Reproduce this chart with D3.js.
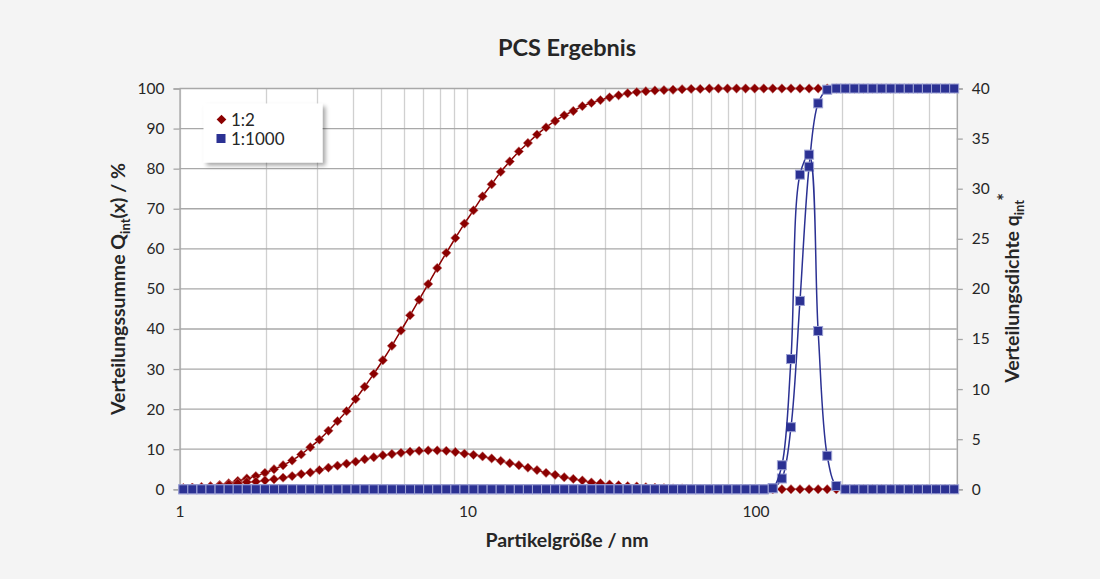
<!DOCTYPE html>
<html>
<head>
<meta charset="utf-8">
<script src="https://cdn.jsdelivr.net/npm/d3@7"></script>
<style>
  html, body { margin: 0; padding: 0; background: #f4f4f4; }
  svg { display: block; font-family: Lato, "Open Sans", sans-serif; }
</style>
</head>
<body>
<svg id="chart" width="1100" height="579"></svg>
<script>
// Particle size classes (nm)
const sizes = [1.031,1.108,1.192,1.281,1.378,1.482,1.593,1.713,1.841,1.980,
  2.129,2.289,2.461,2.646,2.845,3.059,3.289,3.536,3.802,4.088,
  4.395,4.726,5.082,5.464,5.875,6.317,6.791,7.302,7.851,8.441,
  9.076,9.759,10.49,11.28,12.13,13.04,14.02,15.08,16.21,17.43,
  18.74,20.15,21.67,23.30,25.05,26.93,28.95,31.13,33.47,35.99,
  38.70,41.61,44.74,48.10,51.72,55.61,59.79,64.28,69.12,74.32,
  79.91,85.92,92.38,99.33,106.8,114.8,123.5,132.8,142.7,153.5,
  165.0,177.4,190.8,205.1,220.5,237.1,254.9,274.1,294.7,316.9,
  340.7,366.3,393.9,423.5,455.3,489.6];

// Series "1:2": cumulative Q_int (%) and density q_int*
const cum12 = [0.3,0.4,0.6,0.8,1.1,1.5,2.1,2.7,3.3,4.1,
  5.0,6.0,7.2,8.7,10.5,12.4,14.6,17.0,19.5,22.5,
  25.6,28.8,32.2,35.8,39.6,43.4,47.3,51.2,55.2,59.0,
  62.7,66.3,69.6,73.1,76.1,79.2,81.8,84.3,86.4,88.5,
  90.3,91.9,93.3,94.4,95.6,96.4,97.1,97.8,98.3,98.8,
  99.1,99.3,99.5,99.6,99.7,99.8,99.9,99.9,100,100,
  100,100,100,100,100,100,100,100,100,100,
  100,100,100,100,100,100,100,100,100,100,
  100,100,100,100,100,100];
const dens12 = [0.12,0.16,0.2,0.28,0.36,0.48,0.6,0.72,0.76,0.88,
  1.0,1.16,1.32,1.52,1.68,1.92,2.16,2.36,2.56,2.76,
  3.0,3.2,3.4,3.52,3.64,3.76,3.84,3.88,3.88,3.84,
  3.72,3.56,3.44,3.28,3.08,2.84,2.6,2.4,2.16,1.92,
  1.64,1.44,1.2,1.04,0.88,0.68,0.6,0.48,0.4,0.32,
  0.28,0.2,0.16,0.12,0.08,0.08,0.04,0.04,0,0,
  0,0,0,0,0,0,0,0,0,0,
  0,0,0,0,0,0,0,0,0,0,
  0,0,0,0,0,0];

// Series "1:1000"
const cum1000 = [0,0,0,0,0,0,0,0,0,0,
  0,0,0,0,0,0,0,0,0,0,
  0,0,0,0,0,0,0,0,0,0,
  0,0,0,0,0,0,0,0,0,0,
  0,0,0,0,0,0,0,0,0,0,
  0,0,0,0,0,0,0,0,0,0,
  0,0,0,0,0,0.3,2.7,15.5,47.0,80.5,
  96.3,99.7,100,100,100,100,100,100,100,100,
  100,100,100,100,100,100];
const dens1000 = [0,0,0,0,0,0,0,0,0,0,
  0,0,0,0,0,0,0,0,0,0,
  0,0,0,0,0,0,0,0,0,0,
  0,0,0,0,0,0,0,0,0,0,
  0,0,0,0,0,0,0,0,0,0,
  0,0,0,0,0,0,0,0,0,0,
  0,0,0,0,0,0.1,2.4,13.0,31.4,33.4,
  15.8,3.35,0.33,0,0,0,0,0,0,0,
  0,0,0,0,0,0];

const leftTicks = [0,10,20,30,40,50,60,70,80,90,100];
const rightTicks = [0,5,10,15,20,25,30,35,40];
const xTickLabels = [1,10,100];
const xGrid = [1,2,3,4,5,6,7,8,9,10,20,30,40,50,60,70,80,90,100,200,300,400,500];
const seriesNames = ["1:2","1:1000"];

const RED = "#8b0000", BLUE = "#2b3193";
const TEXT = "#262626";

const svg = d3.select("#chart");
const L = 179.5, R = 956.8, T = 88.5, B = 489.3;

const x = d3.scaleLog().domain([1,500]).range([L,R]);
const yL = d3.scaleLinear().domain([0,100]).range([B,T]);
const yR = d3.scaleLinear().domain([0,40]).range([B,T]);

// defs
const defs = svg.append("defs");
const f = defs.append("filter").attr("id","shadow").attr("x","-20%").attr("y","-20%").attr("width","150%").attr("height","160%");
f.append("feDropShadow").attr("dx",3).attr("dy",3).attr("stdDeviation",2).attr("flood-color","#000").attr("flood-opacity",0.35);

// plot area
svg.append("rect").attr("x",L).attr("y",T).attr("width",R-L).attr("height",B-T).attr("fill","#fff");

// vertical gridlines
svg.append("g").selectAll("line").data(xGrid).join("line")
  .attr("x1",d=>Math.round(x(d))+0.5).attr("x2",d=>Math.round(x(d))+0.5)
  .attr("y1",T).attr("y2",B)
  .attr("stroke","#d0d0d0").attr("stroke-width",1.3);

// horizontal gridlines
svg.append("g").selectAll("line").data(leftTicks).join("line")
  .attr("x1",L).attr("x2",R)
  .attr("y1",d=>yL(d)).attr("y2",d=>yL(d))
  .attr("stroke","#a8a8a8").attr("stroke-width",1.3);

// axes
const axisL = d3.axisLeft(yL).tickValues(leftTicks).tickSize(6).tickPadding(9);
const gL = svg.append("g").attr("transform",`translate(${L},0)`).call(axisL);
const axisR = d3.axisRight(yR).tickValues(rightTicks).tickSize(6).tickPadding(9);
const gR = svg.append("g").attr("transform",`translate(${R},0)`).call(axisR);
const axisB = d3.axisBottom(x).tickValues(xTickLabels).tickFormat(d3.format("d")).tickSize(0).tickPadding(17);
const gB = svg.append("g").attr("transform",`translate(0,${B})`).call(axisB);
[gL,gR,gB].forEach(g=>{
  g.selectAll(".domain").attr("stroke","#a6a6a6").attr("stroke-width",1.3);
  g.selectAll(".tick line").attr("stroke","#a6a6a6").attr("stroke-width",1.3);
  g.selectAll("text").attr("fill",TEXT).attr("font-size",15.5).attr("font-family","Lato, sans-serif");
});
gB.select(".domain").remove();

// lines & markers
const lineGen = (yScale, vals) => d3.line()
  .x((d,i)=>x(sizes[i])).y(d=>yScale(d))
  .curve(d3.curveCatmullRom.alpha(0.5))(vals);

function drawSeries(vals, yScale, color, shape){
  svg.append("path").attr("d", lineGen(yScale, vals))
    .attr("fill","none").attr("stroke",color).attr("stroke-width",1.5);
  const g = svg.append("g");
  if(shape==="diamond"){
    g.selectAll("path").data(vals).join("path")
      .attr("d", d3.symbol(d3.symbolDiamond2, 56)())
      .attr("transform",(d,i)=>`translate(${x(sizes[i])},${yScale(d)})`)
      .attr("fill",color).attr("stroke","rgba(200,120,120,0.55)").attr("stroke-width",1);
  } else {
    g.selectAll("rect").data(vals).join("rect")
      .attr("x",(d,i)=>x(sizes[i])-4.5).attr("y",d=>yScale(d)-4.5)
      .attr("width",9).attr("height",9)
      .attr("fill",color).attr("stroke","#9da2d4").attr("stroke-width",1);
  }
}
drawSeries(cum12, yL, RED, "diamond");
drawSeries(dens12, yR, RED, "diamond");
drawSeries(cum1000, yL, BLUE, "square");
drawSeries(dens1000, yR, BLUE, "square");

// title
svg.append("text").attr("x",567).attr("y",56).attr("text-anchor","middle")
  .attr("font-size",23.5).attr("font-weight","bold").attr("fill",TEXT).text("PCS Ergebnis");

// x label
svg.append("text").attr("x",567).attr("y",547).attr("text-anchor","middle")
  .attr("font-size",19.5).attr("font-weight","bold").attr("fill",TEXT).text("Partikelgröße / nm");

// left y label
const tl = svg.append("text").attr("transform","translate(125,289) rotate(-90)")
  .attr("text-anchor","middle").attr("font-size",19.5).attr("font-weight","bold").attr("fill",TEXT);
tl.append("tspan").text("Verteilungssumme Q");
tl.append("tspan").attr("font-size",13).attr("dy",5).text("int");
tl.append("tspan").attr("dy",-5).text("(x) / %");

// right y label
const tr = svg.append("text").attr("transform","translate(1019,288) rotate(-90)")
  .attr("text-anchor","middle").attr("font-size",19.5).attr("font-weight","bold").attr("fill",TEXT);
tr.append("tspan").text("Verteilungsdichte q");
tr.append("tspan").attr("font-size",13).attr("dy",5).text("int");
tr.append("tspan").attr("font-size",18).attr("dy",-13).attr("dx",-1).text("*");

// legend
const lg = svg.append("g");
lg.append("rect").attr("x",203.5).attr("y",103.5).attr("width",119).attr("height",59)
  .attr("fill","#fff").attr("filter","url(#shadow)");
lg.append("path").attr("d", d3.symbol(d3.symbolDiamond2, 60)())
  .attr("transform","translate(221.5,119.5)").attr("fill",RED);
lg.append("rect").attr("x",216.5).attr("y",134).attr("width",9).attr("height",9).attr("fill",BLUE);
lg.append("text").attr("x",231).attr("y",125.5).attr("font-size",17).attr("fill",TEXT).text(seriesNames[0]);
lg.append("text").attr("x",231).attr("y",144.5).attr("font-size",17).attr("fill",TEXT).text(seriesNames[1]);
</script>
</body>
</html>
